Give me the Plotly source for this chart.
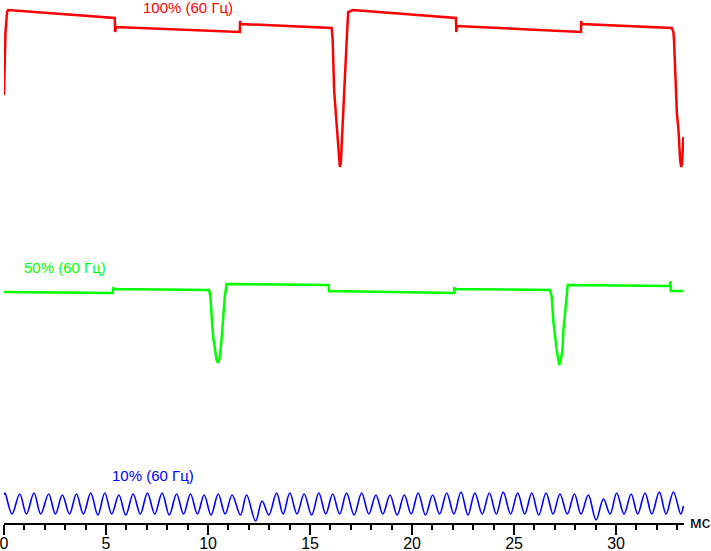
import plotly.graph_objects as go

# time axis in ms, levels in arbitrary brightness units (stacked traces)
red_t = [0.00, 0.03, 0.07, 0.15, 0.20, 5.43, 5.45, 5.48, 11.56, 11.57, 11.60,
         16.06, 16.11, 16.18, 16.27, 16.33, 16.42, 16.46, 16.51, 16.58, 16.63,
         16.71, 16.79, 16.87, 17.10, 22.15, 22.17, 22.20, 28.28, 28.29, 28.32,
         32.73, 32.81, 32.84, 32.89, 32.93, 32.98, 33.06, 33.09, 33.14, 33.19,
         33.22, 33.25, 33.30]
red_level = [428, 458, 490, 511, 513, 505, 491, 496, 491, 502, 499,
             495, 483, 433, 410, 386, 370, 356, 360, 386, 413,
             446, 480, 511, 513, 505, 491, 497, 491, 502, 499,
             495, 491, 483, 461, 435, 410, 393, 375, 363, 356,
             358, 366, 386]

green_t = [0.00, 5.33, 5.35, 5.38, 10.05, 10.12, 10.19, 10.25, 10.33, 10.42,
           10.50, 10.58, 10.66, 10.74, 10.82, 10.91, 15.92, 15.93, 15.96,
           22.06, 22.07, 22.10, 26.76, 26.85, 26.92, 27.01, 27.09, 27.17,
           27.22, 27.29, 27.37, 27.42, 27.50, 27.58, 27.63, 32.65, 32.66,
           32.68, 33.30]
green_level = [231, 230, 236, 234, 233, 226, 203, 186, 176, 163,
               160, 166, 183, 203, 226, 239, 238, 231, 232,
               230, 236, 234, 233, 226, 203, 183, 173, 163,
               158, 163, 173, 193, 210, 230, 238, 237, 242,
               232, 232]

blue_t = [0.00, 0.05, 0.39, 0.77, 1.10, 1.47, 1.80, 2.19, 2.52, 2.86, 3.21,
          3.55, 3.89, 4.25, 4.60, 4.94, 5.28, 5.63, 5.97, 6.33, 6.68, 7.03,
          7.39, 7.75, 8.10, 8.46, 8.80, 9.14, 9.48, 9.81, 10.15, 10.50, 10.84,
          11.18, 11.59, 11.89, 12.33, 12.65, 12.98, 13.36, 13.68, 14.01, 14.36,
          14.71, 15.08, 15.43, 15.77, 16.11, 16.45, 16.79, 17.16, 17.53, 17.88,
          18.23, 18.57, 18.92, 19.27, 19.62, 19.96, 20.30, 20.66, 21.01, 21.35,
          21.70, 22.05, 22.40, 22.74, 23.08, 23.44, 23.79, 24.13, 24.47, 24.83,
          25.18, 25.52, 25.87, 26.21, 26.57, 26.91, 27.25, 27.61, 27.96, 28.28,
          28.64, 29.02, 29.38, 29.71, 30.03, 30.39, 30.74, 31.06, 31.42, 31.75,
          32.12, 32.45, 32.81, 33.17, 33.30]
blue_level = [28, 30, 9, 29, 9, 30, 9, 29, 9, 28, 9,
              29, 9, 30, 8, 30, 9, 28, 8, 29, 9, 30,
              9, 30, 8, 29, 9, 29, 9, 28, 8, 29, 9,
              28, 8, 28, 2, 22, 8, 30, 9, 30, 9,
              29, 8, 30, 9, 29, 9, 30, 8, 30, 9,
              28, 9, 28, 8, 28, 9, 30, 8, 28, 9,
              30, 9, 31, 8, 30, 9, 30, 9, 31, 9,
              30, 9, 30, 8, 30, 9, 29, 9, 29, 9,
              28, 3, 24, 9, 30, 9, 29, 9, 30, 9,
              31, 9, 31, 9, 17]

labels = ["100% (60 Гц)", "50% (60 Гц)", "10% (60 Гц)"]
label_t = [9.02, 2.98, 7.31]
label_level = [516, 256, 48]
colors = ["#ff0000", "#00ff00", "#0000ff"]

FONT = "Liberation Sans, Arial, sans-serif"

fig = go.Figure()
fig.add_trace(go.Scatter(x=red_t, y=red_level, mode="lines",
                         line=dict(color=colors[0], width=2.5)))
fig.add_trace(go.Scatter(x=green_t, y=green_level, mode="lines",
                         line=dict(color=colors[1], width=2.5)))
fig.add_trace(go.Scatter(x=blue_t, y=blue_level, mode="lines",
                         line=dict(color=colors[2], width=1.6, shape="spline")))

for text, tx, ty, c in zip(labels, label_t, label_level, colors):
    fig.add_annotation(x=tx, y=ty, text=text, showarrow=False,
                       font=dict(family=FONT, size=15, color=c))

fig.add_annotation(x=1.0, y=0, xref="paper", yref="paper", text="мс",
                   showarrow=False, xanchor="left", yanchor="middle", xshift=4,
                   yshift=1, font=dict(family=FONT, size=17, color="#000000"))

fig.update_layout(
    width=711,
    height=551,
    paper_bgcolor="white",
    plot_bgcolor="white",
    showlegend=False,
    margin=dict(l=4, r=27, t=0, b=28, autoexpand=False),
    xaxis=dict(
        range=[0, 33.33],
        showgrid=False,
        zeroline=False,
        showline=True,
        linecolor="black",
        linewidth=2,
        ticks="outside",
        ticklen=10,
        tickwidth=1.5,
        tickcolor="black",
        dtick=5,
        tick0=0,
        ticklabelstandoff=-5,
        ticklabeloverflow="allow",
        tickfont=dict(family=FONT, size=16, color="black"),
        minor=dict(dtick=1, ticks="outside", ticklen=5, tickwidth=1.5,
                   tickcolor="black", showgrid=False),
    ),
    yaxis=dict(range=[0, 523], visible=False, showgrid=False, zeroline=False),
)

# the page body has a default 8px margin; drop it so the chart sits at 0,0
fig.write_html("out.html", config={"displayModeBar": False},
               post_script="document.body.style.margin = '0';")
